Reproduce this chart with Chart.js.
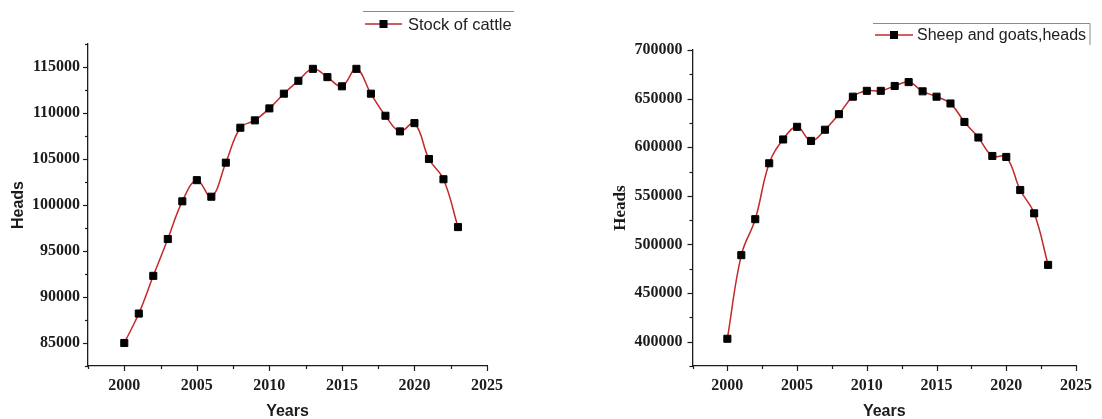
<!DOCTYPE html>
<html>
<head>
<meta charset="utf-8">
<title>Livestock, heads</title>
<script src="https://cdn.jsdelivr.net/npm/chart.js@4/dist/chart.umd.min.js"></script>
<style>
  body { margin: 0; background: #fff; }
  .wrap { position: relative; width: 1102px; height: 419px; }
  canvas { position: absolute; top: 0; }
  #cattle { left: 0; }
  #sheep { left: 551px; }
</style>
</head>
<body>
<div class="wrap">
  <canvas id="cattle" width="551" height="419"></canvas>
  <canvas id="sheep" width="551" height="419"></canvas>
</div>
<script>
const years = [2000, 2001, 2002, 2003, 2004, 2005, 2006, 2007, 2008, 2009, 2010, 2011,
  2012, 2013, 2014, 2015, 2016, 2017, 2018, 2019, 2020, 2021, 2022, 2023];

const cattle = [85000, 88200, 92300, 96300, 100400, 102700, 100900, 104600, 108400, 109200,
  110500, 112100, 113500, 114800, 113900, 112900, 114800, 112100, 109700, 108000,
  108900, 105000, 102800, 97600];

const sheepGoats = [403000, 489000, 526000, 583500, 608000, 621000, 606500, 618000, 634000,
  652000, 658000, 658000, 663000, 667000, 657500, 652000, 645000, 626000, 610000,
  591000, 590000, 556000, 532000, 479000];

const RED = '#c3282b';
const INK = '#1c1c1c';
const SERIF = '"Liberation Serif", "Times New Roman", serif';
const SANS = '"Liberation Sans", Arial, sans-serif';

// labelled ticks only at whole multiples of the step
function stepTicks(scale) {
  const step = scale.options.ticks.stepSize;
  const out = [];
  for (let v = Math.ceil(scale.min / step - 1e-9) * step; v <= scale.max + 1e-9; v += step) {
    out.push({ value: v });
  }
  scale.ticks = out;
}

// major ticks at each label, minor ticks halfway between, all pointing outward
const axisTicks = {
  id: 'axisTicks',
  afterDraw(chart) {
    const ctx = chart.ctx;
    ctx.save();
    ctx.strokeStyle = INK;
    ctx.lineWidth = 1.2;
    for (const scale of [chart.scales.x, chart.scales.y]) {
      const step = scale.options.ticks.stepSize;
      const half = step / 2;
      for (let v = Math.ceil(scale.min / half - 1e-9) * half; v <= scale.max + 1e-9; v += half) {
        const major = Math.abs(v / step - Math.round(v / step)) < 1e-6;
        const len = major ? 5 : 3;
        const p = Math.round(scale.getPixelForValue(v)) + 0.5;
        ctx.beginPath();
        if (scale.isHorizontal()) {
          ctx.moveTo(p, scale.top);
          ctx.lineTo(p, scale.top + len);
        } else {
          ctx.moveTo(scale.right, p);
          ctx.lineTo(scale.right - len, p);
        }
        ctx.stroke();
      }
    }
    ctx.restore();
  }
};

// legend entry: red line with a square marker, a rule above, optional rule on the right
const lineKey = {
  id: 'lineKey',
  afterDraw(chart, args, opts) {
    const ctx = chart.ctx;
    const ds = chart.data.datasets[0];
    ctx.save();
    ctx.strokeStyle = '#8a8a8a';
    ctx.lineWidth = 1;
    ctx.beginPath();
    ctx.moveTo(opts.ruleFrom, opts.ruleY);
    ctx.lineTo(opts.ruleTo, opts.ruleY);
    if (opts.sideRule) {
      ctx.moveTo(opts.ruleTo, opts.ruleY);
      ctx.lineTo(opts.ruleTo, opts.sideBottom);
    }
    ctx.stroke();

    ctx.strokeStyle = ds.borderColor;
    ctx.lineWidth = 1.5;
    ctx.beginPath();
    ctx.moveTo(opts.lineFrom, opts.y);
    ctx.lineTo(opts.lineTo, opts.y);
    ctx.stroke();

    const mid = (opts.lineFrom + opts.lineTo) / 2;
    ctx.fillStyle = '#000';
    ctx.fillRect(mid - 4, opts.y - 4, 8, 8);

    ctx.fillStyle = '#222';
    ctx.font = opts.fontSize + 'px ' + SANS;
    ctx.textBaseline = 'middle';
    ctx.textAlign = 'left';
    ctx.fillText(ds.label, opts.textX, opts.y + 1);
    ctx.restore();
  }
};

function makeChart(id, cfg) {
  const points = years.map((yr, i) => ({ x: yr, y: cfg.values[i] }));
  return new Chart(document.getElementById(id), {
    type: 'line',
    data: {
      datasets: [{
        label: cfg.label,
        data: points,
        borderColor: RED,
        borderWidth: 1.5,
        tension: 0.4,
        pointStyle: 'rect',
        pointRadius: 5,
        pointBorderWidth: 1,
        pointBackgroundColor: '#000',
        pointBorderColor: '#000'
      }]
    },
    options: {
      responsive: false,
      animation: false,
      layout: { padding: { top: cfg.top, right: cfg.right, bottom: 0, left: 0 } },
      plugins: {
        legend: { display: false },
        tooltip: { enabled: false },
        lineKey: cfg.key
      },
      scales: {
        x: {
          type: 'linear',
          min: 1997.5,
          max: 2025,
          grid: { display: false, drawTicks: false },
          border: { display: true, color: INK, width: 1.3 },
          ticks: {
            stepSize: 5,
            autoSkip: false,
            maxRotation: 0,
            padding: 10,
            color: INK,
            font: { family: SERIF, weight: 'bold', size: 16 },
            callback: v => String(v)
          },
          afterBuildTicks: stepTicks,
          title: {
            display: true,
            text: 'Years',
            color: INK,
            font: { family: SANS, weight: 'bold', size: 16, lineHeight: 0.875 },
            padding: 0
          },
          afterFit: s => { s.height = 53; }
        },
        y: {
          min: cfg.yMin,
          max: cfg.yMax,
          grid: { display: false, drawTicks: false },
          border: { display: true, color: INK, width: 1.3 },
          ticks: {
            stepSize: cfg.yStep,
            autoSkip: false,
            padding: cfg.labelGap,
            color: INK,
            font: { family: SERIF, weight: 'bold', size: 16 },
            callback: v => String(v)
          },
          afterBuildTicks: stepTicks,
          title: {
            display: true,
            text: 'Heads',
            color: INK,
            font: cfg.yTitleFont,
            padding: { top: cfg.yTitlePad, bottom: 0 }
          },
          afterFit: s => { s.width = cfg.yWidth; }
        }
      }
    },
    plugins: [axisTicks, lineKey]
  });
}

makeChart('cattle', {
  label: 'Stock of cattle',
  values: cattle,
  yMin: 82500, yMax: 117500, yStep: 5000,
  top: 44, right: 64, yWidth: 88, labelGap: 8,
  yTitleFont: { family: SANS, weight: 'bold', size: 16, lineHeight: 1.2 },
  yTitlePad: 8.7,
  key: {
    ruleFrom: 363, ruleTo: 514, ruleY: 11.5, sideRule: false,
    y: 24, lineFrom: 365, lineTo: 402, textX: 408, fontSize: 16.5
  }
});

makeChart('sheep', {
  label: 'Sheep and goats,heads',
  values: sheepGoats,
  yMin: 375000, yMax: 700000, yStep: 50000,
  top: 50, right: 19, yWidth: 141.5, labelGap: 10,
  yTitleFont: { family: SERIF, weight: 'bold', size: 17, lineHeight: 1.2 },
  yTitlePad: 59,
  key: {
    ruleFrom: 322, ruleTo: 539, ruleY: 23.5, sideRule: true, sideBottom: 45,
    y: 35, lineFrom: 324, lineTo: 362, textX: 366, fontSize: 16
  }
});
</script>
</body>
</html>
